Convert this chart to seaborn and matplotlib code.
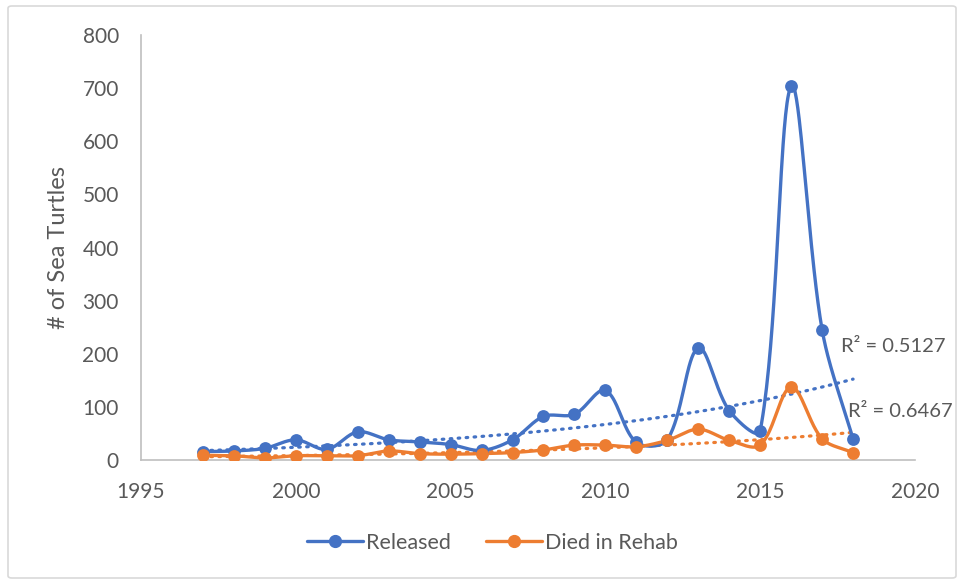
import numpy as np
import pandas as pd
import matplotlib
matplotlib.use("Agg")
import matplotlib.pyplot as plt
import seaborn as sns
from matplotlib.lines import Line2D
from matplotlib.patches import FancyBboxPatch

years = [1997, 1998, 1999, 2000, 2001, 2002, 2003, 2004, 2005, 2006, 2007,
         2008, 2009, 2010, 2011, 2012, 2013, 2014, 2015, 2016, 2017, 2018]
released = [16, 17, 22, 38, 20, 53, 38, 34, 29, 18, 38,
            82, 86, 131, 33, 38, 211, 93, 55, 704, 245, 39]
died = [9, 8, 4, 8, 8, 8, 17, 12, 11, 12, 14,
        19, 28, 28, 25, 37, 58, 37, 28, 137, 40, 14]
series_names = ["Released", "Died in Rehab"]
r2_labels = ["R\u00b2 = 0.5127", "R\u00b2 = 0.6467"]
x_ticks = [1995, 2000, 2005, 2010, 2015, 2020]
y_ticks = [0, 100, 200, 300, 400, 500, 600, 700, 800]

BLUE = "#4472C4"
ORANGE = "#ED7D31"
GRAY = "#595959"

sns.set_theme(style="white")
plt.rcParams["font.family"] = ["Lato", "DejaVu Sans"]

# axes geometry in pixels
AX_L, AX_R, AX_T, AX_B = 141, 915, 35, 460
XMIN, XMAX, YMIN, YMAX = 1995, 2020, 0, 800
PX_X = (AX_R - AX_L) / (XMAX - XMIN)
PX_Y = (AX_B - AX_T) / (YMAX - YMIN)


def smooth(xs, ys, n=40):
    """Excel-like smoothed line: Bezier with tangents split by segment length."""
    P = np.column_stack([np.asarray(xs, float) * PX_X,
                         np.asarray(ys, float) * PX_Y])
    m = len(P)
    before = np.zeros_like(P)
    after = np.zeros_like(P)
    for i in range(m):
        p_prev = P[i - 1] if i > 0 else P[i]
        p_next = P[i + 1] if i < m - 1 else P[i]
        T = p_next - p_prev
        d1 = np.linalg.norm(P[i] - p_prev)
        d2 = np.linalg.norm(p_next - P[i])
        tot = d1 + d2 if d1 + d2 > 0 else 1.0
        before[i] = P[i] - T * (d1 / tot) / 3.0
        after[i] = P[i] + T * (d2 / tot) / 3.0
    t = np.linspace(0, 1, n)[:, None]
    out = []
    for i in range(m - 1):
        p1, c1, c2, p2 = P[i], after[i], before[i + 1], P[i + 1]
        seg = ((1 - t) ** 3 * p1 + 3 * (1 - t) ** 2 * t * c1
               + 3 * (1 - t) * t ** 2 * c2 + t ** 3 * p2)
        out.append(seg if i == 0 else seg[1:])
    s = np.vstack(out)
    return s[:, 0] / PX_X, s[:, 1] / PX_Y


def exp_trend(xs, ys):
    xs = np.asarray(xs, float)
    b, a = np.polyfit(xs, np.log(np.asarray(ys, float)), 1)
    xx = np.linspace(xs[0], xs[-1], 100)
    return xx, np.exp(a + b * xx)


fig = plt.figure(figsize=(9.62, 5.82), dpi=100)
fig.patch.set_facecolor("white")
border = FancyBboxPatch((8 / 962, 4 / 582), 948 / 962, 572 / 582,
                        boxstyle="round,pad=0,rounding_size=0.004",
                        transform=fig.transFigure, fill=False,
                        edgecolor="#D9D9D9", linewidth=1.2)
fig.add_artist(border)

ax = fig.add_axes([AX_L / 962, (582 - AX_B) / 582,
                   (AX_R - AX_L) / 962, (AX_B - AX_T) / 582])

for vals, col in [(released, BLUE), (died, ORANGE)]:
    tx, ty = exp_trend(years, vals)
    ax.plot(tx, ty, color=col, lw=2.3, linestyle=(0, (0.5, 2.0)),
            dash_capstyle="round", zorder=2)

for vals, col in [(released, BLUE), (died, ORANGE)]:
    sx, sy = smooth(years, vals)
    df = pd.DataFrame({"x": sx, "y": sy})
    sns.lineplot(data=df, x="x", y="y", ax=ax, color=col, lw=2.4,
                 estimator=None, sort=False, zorder=3)
    sns.scatterplot(x=years, y=vals, ax=ax, color=col, s=85,
                    edgecolor=col, linewidth=0, zorder=4)

ax.set_xlim(XMIN, XMAX)
ax.set_ylim(YMIN, YMAX)
ax.set_xticks(x_ticks)
ax.set_yticks(y_ticks)
ax.set_xlabel("")
ax.set_ylabel("# of Sea Turtles", fontsize=17, color=GRAY, labelpad=10)
ax.tick_params(axis="both", length=0, labelsize=15, colors=GRAY)
ax.tick_params(axis="y", pad=16)
ax.tick_params(axis="x", pad=16)
for side in ["top", "right"]:
    ax.spines[side].set_visible(False)
for side in ["left", "bottom"]:
    ax.spines[side].set_color("#BFBFBF")
    ax.spines[side].set_linewidth(1.2)
ax.grid(False)

ax.text(2017.6, 214, r2_labels[0], fontsize=14.5, color=GRAY,
        va="center", ha="left", clip_on=False)
ax.text(2017.85, 92, r2_labels[1], fontsize=14.5, color=GRAY,
        va="center", ha="left", clip_on=False)

handles = [Line2D([], [], color=BLUE, lw=2.4, marker="o", markersize=8.5),
           Line2D([], [], color=ORANGE, lw=2.4, marker="o", markersize=8.5)]
fig.legend(handles, series_names, loc="center", bbox_to_anchor=(0.512, 0.067),
           ncol=2, frameon=False, fontsize=15.5, labelcolor=GRAY,
           handlelength=2.6, handletextpad=0.15, columnspacing=1.6)

fig.savefig("out.png", dpi=100, facecolor="white")
